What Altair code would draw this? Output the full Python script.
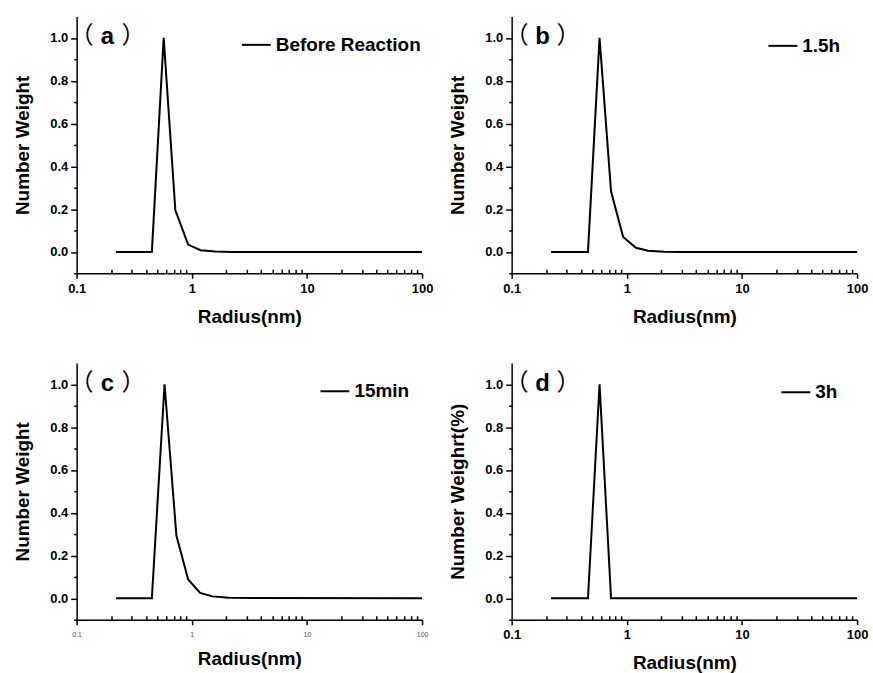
import altair as alt
import pandas as pd

# ---- data ----
radius_a = [0.22, 0.45, 0.57, 0.72, 0.93, 1.19, 1.6, 2.2, 3.0, 100]
weight_a = [0, 0, 1.0, 0.194, 0.034, 0.008, 0.002, 0, 0, 0]

radius_b = [0.22, 0.46, 0.58, 0.73, 0.93, 1.2, 1.53, 2.1, 3.0, 100]
weight_b = [0, 0, 1.0, 0.282, 0.070, 0.019, 0.005, 0.001, 0, 0]

radius_c = [0.22, 0.45, 0.58, 0.735, 0.93, 1.18, 1.51, 2.1, 3.5, 100]
weight_c = [0, 0, 1.0, 0.293, 0.088, 0.025, 0.009, 0.003, 0.001, 0]

radius_d = [0.22, 0.46, 0.58, 0.73, 100]
weight_d = [0, 0, 1.0, 0, 0]

series_names = ["Before Reaction", "1.5h", "15min", "3h"]
panel_letters = ["a", "b", "c", "d"]
open_paren, close_paren = "（", "）"
y_titles = ["Number Weight", "Number Weight", "Number Weight", "Number Weighrt(%)"]
x_title = "Radius(nm)"

x_major = [0.1, 1, 10, 100]
x_minor = [0.2, 0.3, 0.4, 0.5, 0.6, 0.7, 0.8, 0.9,
           2, 3, 4, 5, 6, 7, 8, 9,
           20, 30, 40, 50, 60, 70, 80, 90]
y_major = [0.0, 0.2, 0.4, 0.6, 0.8, 1.0]
y_minor = [-0.1, 0.1, 0.3, 0.5, 0.7, 0.9]

FONT = "Liberation Sans"
CJK = "Noto Sans CJK SC"
W, H = 347, 258


def js_list(vals):
    return "[" + ",".join(repr(v) for v in vals) + "]"


y_is_major = f"indexof({js_list(y_major)}, datum.value) >= 0"


def panel(r, w, name, letter, ytitle, legend_x, legend_y, small_x_labels=False):
    df = pd.DataFrame({"radius": r, "weight": w, "series": [name] * len(r)})
    if small_x_labels:
        xlab = dict(labelFont=FONT, labelFontSize=7, labelFontWeight="normal",
                    labelColor="#555555", labelPadding=6)
    else:
        xlab = dict(labelFont=FONT, labelFontSize=13, labelFontWeight="bold",
                    labelColor="black", labelPadding=4)
    xscale = alt.Scale(type="log", domain=[0.1, 100], nice=False)
    x_axis = alt.Axis(
        values=x_major, format="~g", tickSize=5,
        title=x_title, titleFont=FONT, titleFontSize=19, titleFontWeight="bold",
        titlePadding=12, labelFlush=False, labelOverlap=False,
        **xlab,
    )
    y_axis = alt.Axis(
        values=sorted(y_major + y_minor),
        labelExpr=f"{y_is_major} ? format(datum.value, '.1f') : ''",
        tickSize={"condition": {"test": y_is_major, "value": 6}, "value": 3},
        title=ytitle, titleFont=FONT, titleFontSize=19, titleFontWeight="bold",
        titlePadding=17, labelFont=FONT, labelFontSize=13, labelFontWeight="bold",
        labelPadding=3, labelFlush=False, labelOverlap=False,
    )
    line = alt.Chart(df).mark_line(strokeWidth=2).encode(
        x=alt.X("radius:Q", scale=xscale, axis=x_axis),
        y=alt.Y("weight:Q", scale=alt.Scale(domain=[-0.1, 1.1], nice=False, zero=False), axis=y_axis),
        color=alt.Color(
            "series:N",
            scale=alt.Scale(range=["black"]),
            legend=alt.Legend(
                orient="none", legendX=legend_x, legendY=legend_y, title=None,
                symbolType="stroke", symbolSize=841, symbolStrokeWidth=2,
                symbolStrokeColor="black",
                labelFont=FONT, labelFontSize=19, labelFontWeight="bold",
                labelColor="black", labelOffset=4, padding=0,
            ),
        ),
    )
    # inward-pointing minor ticks on the bottom edge
    minor = alt.Chart(df).mark_point(opacity=0).encode(
        x=alt.X("radius:Q", scale=xscale,
                axis=alt.Axis(orient="top", offset=-H, values=x_minor, labels=False,
                              domain=False, tickSize=4, title=None)),
    )
    lab = pd.DataFrame({"o": [open_paren], "c": [close_paren], "l": [letter]})
    left_p = alt.Chart(lab).mark_text(
        font=CJK, fontSize=24, align="right", baseline="middle", color="black",
    ).encode(x=alt.value(17), y=alt.value(20), text="o:N")
    right_p = alt.Chart(lab).mark_text(
        font=CJK, fontSize=24, align="left", baseline="middle", color="black",
    ).encode(x=alt.value(45), y=alt.value(20), text="c:N")
    letter_mark = alt.Chart(lab).mark_text(
        font=FONT, fontSize=24, fontWeight="bold",
        align="center", baseline="alphabetic", color="black",
    ).encode(x=alt.value(31), y=alt.value(28), text="l:N")
    return (
        alt.layer(line, minor, left_p, right_p, letter_mark)
        .resolve_axis(x="independent")
        .properties(width=W, height=H)
    )


pa = panel(radius_a, weight_a, series_names[0], panel_letters[0], y_titles[0], 165, 13)
pb = panel(radius_b, weight_b, series_names[1], panel_letters[1], y_titles[1], 257, 14)
pc = panel(radius_c, weight_c, series_names[2], panel_letters[2], y_titles[2], 244, 13, small_x_labels=True)
pd_ = panel(radius_d, weight_d, series_names[3], panel_letters[3], y_titles[3], 270, 14)

chart = (
    alt.concat(pa, pb, pc, pd_, columns=2, spacing={"row": 90, "column": 90}, bounds="flush")
    .resolve_scale(color="independent")
    .properties(padding={"left": 13, "top": 15, "right": 5, "bottom": 5}, background="white")
    .configure_view(stroke=None)
    .configure_axis(
        grid=False, domainColor="black", domainWidth=1.5,
        tickColor="black", tickWidth=1.5, labelColor="black", titleColor="black",
    )
)

chart.save("out.html", embed_options={"renderer": "svg", "actions": False})
